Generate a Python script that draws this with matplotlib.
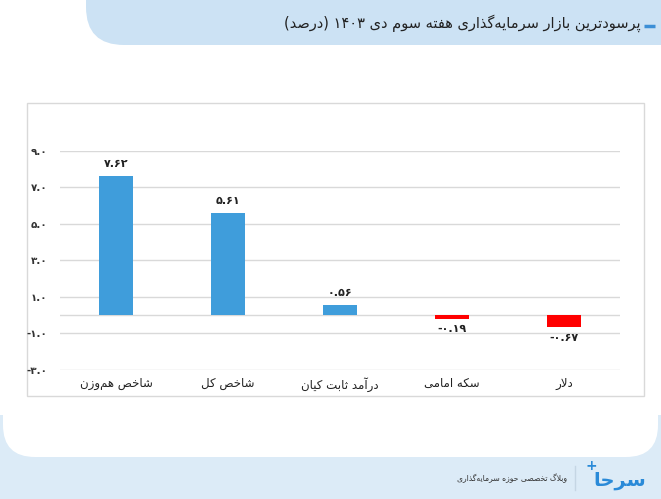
import re
import matplotlib
matplotlib.use("Agg")
import matplotlib.pyplot as plt
from matplotlib.patches import FancyBboxPatch, Rectangle

title = "پرسودترین بازار سرمایه\u200cگذاری هفته سوم دی ۱۴۰۳ (درصد)"
footer = "وبلاگ تخصصی حوزه سرمایه\u200cگذاری"
categories = ["شاخص هم\u200cوزن", "شاخص کل", "درآمد ثابت کیان", "سکه امامی", "دلار"]
values = [7.62, 5.61, 0.56, -0.19, -0.67]
yticks = [-3.0, -1.0, 1.0, 3.0, 5.0, 7.0, 9.0]

# minimal arabic/persian shaping: (isolated, final, initial, medial)
FORMS = {
    'ا': (0xFE8D, 0xFE8E), 'آ': (0xFE81, 0xFE82),
    'ب': (0xFE8F, 0xFE90, 0xFE91, 0xFE92), 'پ': (0xFB56, 0xFB57, 0xFB58, 0xFB59),
    'ت': (0xFE95, 0xFE96, 0xFE97, 0xFE98), 'ث': (0xFE99, 0xFE9A, 0xFE9B, 0xFE9C),
    'ج': (0xFE9D, 0xFE9E, 0xFE9F, 0xFEA0), 'چ': (0xFB7A, 0xFB7B, 0xFB7C, 0xFB7D),
    'ح': (0xFEA1, 0xFEA2, 0xFEA3, 0xFEA4), 'خ': (0xFEA5, 0xFEA6, 0xFEA7, 0xFEA8),
    'د': (0xFEA9, 0xFEAA), 'ذ': (0xFEAB, 0xFEAC), 'ر': (0xFEAD, 0xFEAE),
    'ز': (0xFEAF, 0xFEB0), 'ژ': (0xFB8A, 0xFB8B),
    'س': (0xFEB1, 0xFEB2, 0xFEB3, 0xFEB4), 'ش': (0xFEB5, 0xFEB6, 0xFEB7, 0xFEB8),
    'ص': (0xFEB9, 0xFEBA, 0xFEBB, 0xFEBC), 'ض': (0xFEBD, 0xFEBE, 0xFEBF, 0xFEC0),
    'ط': (0xFEC1, 0xFEC2, 0xFEC3, 0xFEC4), 'ظ': (0xFEC5, 0xFEC6, 0xFEC7, 0xFEC8),
    'ع': (0xFEC9, 0xFECA, 0xFECB, 0xFECC), 'غ': (0xFECD, 0xFECE, 0xFECF, 0xFED0),
    'ف': (0xFED1, 0xFED2, 0xFED3, 0xFED4), 'ق': (0xFED5, 0xFED6, 0xFED7, 0xFED8),
    'ک': (0xFB8E, 0xFB8F, 0xFB90, 0xFB91), 'گ': (0xFB92, 0xFB93, 0xFB94, 0xFB95),
    'ل': (0xFEDD, 0xFEDE, 0xFEDF, 0xFEE0), 'م': (0xFEE1, 0xFEE2, 0xFEE3, 0xFEE4),
    'ن': (0xFEE5, 0xFEE6, 0xFEE7, 0xFEE8), 'ه': (0xFEE9, 0xFEEA, 0xFEEB, 0xFEEC),
    'و': (0xFEED, 0xFEEE), 'ی': (0xFBFC, 0xFBFD, 0xFBFE, 0xFBFF),
}
LAM_ALEF = {'ا': (0xFEFB, 0xFEFC), 'آ': (0xFEF5, 0xFEF6)}


def fa(text):
    chars = list(text)
    out = []
    i = 0
    while i < len(chars):
        ch = chars[i]
        if ch not in FORMS:
            if ch != '\u200c':
                out.append(ch)
            i += 1
            continue
        prev = chars[i - 1] if i > 0 else ''
        prev_joins = prev in FORMS and len(FORMS[prev]) == 4
        nxt = chars[i + 1] if i + 1 < len(chars) else ''
        if ch == 'ل' and nxt in LAM_ALEF:
            out.append(chr(LAM_ALEF[nxt][1 if prev_joins else 0]))
            i += 2
            continue
        f = FORMS[ch]
        next_joins = nxt in FORMS and len(f) == 4
        if prev_joins and next_joins:
            out.append(chr(f[3]))
        elif prev_joins:
            out.append(chr(f[1]))
        elif next_joins:
            out.append(chr(f[2]))
        else:
            out.append(chr(f[0]))
        i += 1
    vis = ''.join(out)[::-1]
    vis = re.sub(r'[۰-۹0-9]+', lambda m: m.group()[::-1], vis)
    return vis.translate(str.maketrans('()', ')('))


def fa_num(v, fmt):
    return (fmt % v).translate(str.maketrans('0123456789', '۰۱۲۳۴۵۶۷۸۹'))


plt.rcParams['font.family'] = ['DejaVu Sans']
W, H = 661, 499
fig = plt.figure(figsize=(W / 100, H / 100), dpi=100)
fig.patch.set_facecolor('white')

# background layout in pixel coordinates
bg = fig.add_axes([0, 0, 1, 1], zorder=-1)
bg.set_xlim(0, W)
bg.set_ylim(H, 0)
bg.axis('off')
bg.add_patch(FancyBboxPatch((86, -60), 700, 105, boxstyle="round,pad=0,rounding_size=38",
                            fc='#cce2f4', ec='none'))
bg.add_patch(Rectangle((0, 415), W, 84, fc='#dcebf7', ec='none'))
bg.add_patch(FancyBboxPatch((3, 60), 655, 397, boxstyle="round,pad=0,rounding_size=32",
                            fc='white', ec='none'))
bg.add_patch(Rectangle((27, 103), 617, 293, fc='none', ec='#d9d9d9', lw=1))
bg.text(641, 23, fa(title), ha='right', va='center', fontsize=10.5, color='#222222')
bg.plot([644, 655], [26, 26], color='#3c8fd6', lw=2.5, solid_capstyle='butt')
bg.plot([575, 575], [466, 490], color='#c5d6e4', lw=1)
bg.text(567, 478, fa(footer), ha='right', va='center', fontsize=5.5, color='#333333')
bg.text(620, 480, fa('سرحا'), ha='center', va='center', fontsize=14, color='#2a8ad8',
        fontweight='bold')
bg.text(591, 466, '+', ha='center', va='center', fontsize=10, color='#2a8ad8', fontweight='bold')

ax = fig.add_axes([60 / W, 1 - 369.75 / H, 560 / W, 218.75 / H])
ax.set_facecolor('none')
x = list(range(len(categories)))
colors = ['#3f9ddb' if v >= 0 else '#ff0000' for v in values]
ax.bar(x, values, width=0.31, color=colors, zorder=3)
ax.set_xlim(-0.5, len(categories) - 0.5)
ax.set_ylim(-3, 9)
ax.set_yticks(yticks)
ax.set_yticklabels([fa_num(t, '%.1f') for t in yticks], fontsize=7.5, color='#333333',
                   fontweight='bold')
ax.set_xticks(x)
ax.set_xticklabels([fa(c) for c in categories], fontsize=8.5, color='#222222')
ax.tick_params(axis='y', length=0, pad=9)
ax.tick_params(axis='x', length=0, pad=5)
ax.grid(axis='y', color='#d9d9d9', lw=1, zorder=0)
ax.axhline(0, color='#d9d9d9', lw=1, zorder=1)
for s in ax.spines.values():
    s.set_visible(False)

for xi, v in zip(x, values):
    if v >= 0:
        ax.annotate(fa_num(v, '%.2f'), (xi, v), xytext=(0, 5), textcoords='offset points',
                    ha='center', va='bottom', fontsize=8, color='#222222', fontweight='bold')
    else:
        ax.annotate(fa_num(v, '%.2f'), (xi, v), xytext=(0, -4), textcoords='offset points',
                    ha='center', va='top', fontsize=8, color='#222222', fontweight='bold')

fig.savefig('out.png', dpi=100)
